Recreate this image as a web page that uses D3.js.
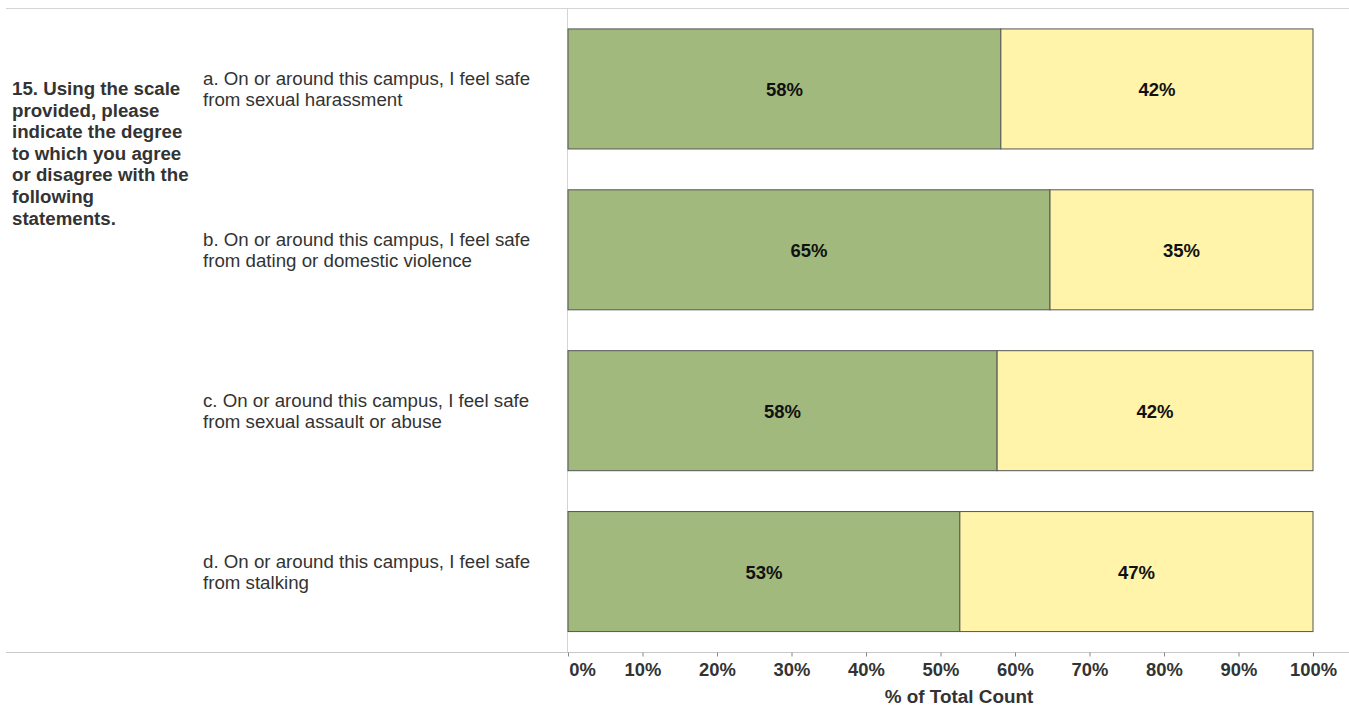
<!DOCTYPE html>
<html>
<head>
<meta charset="utf-8">
<script src="https://cdn.jsdelivr.net/npm/d3@7"></script>
<style>
  body { margin: 0; background: #fff; }
  svg text { font-family: "Liberation Sans", Arial, sans-serif; }
</style>
</head>
<body>
<div id="chart"></div>
<script>
// data
var statements = [
    ["a. On or around this campus, I feel safe", "from sexual harassment"],
    ["b. On or around this campus, I feel safe", "from dating or domestic violence"],
    ["c. On or around this campus, I feel safe", "from sexual assault or abuse"],
    ["d. On or around this campus, I feel safe", "from stalking"]
];
var agree = [58.1, 64.7, 57.6, 52.6];
var disagree = [41.9, 35.3, 42.4, 47.4];
var question = ["15. Using the scale", "provided, please", "indicate the degree",
    "to which you agree", "or disagree with the", "following", "statements."];
var ticks = [0, 10, 20, 30, 40, 50, 60, 70, 80, 90, 100];

var W = 1349, H = 706;
var plot = { left: 568, right: 1313, top: 8, bottom: 652 };

var svg = d3.select("#chart").append("svg")
    .attr("width", W)
    .attr("height", H);

var x = d3.scaleLinear().domain([0, 100]).range([plot.left, plot.right]);
var y = d3.scaleBand()
    .domain(d3.range(statements.length))
    .range([plot.top + 0.5, plot.bottom])
    .paddingInner(0.254)
    .paddingOuter(0.127);

// frame lines
svg.append("line").attr("x1", 6).attr("x2", W).attr("y1", 8.5).attr("y2", 8.5)
    .attr("stroke", "#d4d4d4");
svg.append("line").attr("x1", 567.5).attr("x2", 567.5).attr("y1", 8).attr("y2", plot.bottom)
    .attr("stroke", "#d4d4d4");
svg.append("line").attr("x1", 6).attr("x2", W).attr("y1", plot.bottom + 0.5).attr("y2", plot.bottom + 0.5)
    .attr("stroke", "#c8c8c8");

// rows
var rows = svg.selectAll(".row")
    .data(statements.map(function (s, i) {
        return { label: s, a: agree[i], d: disagree[i], i: i };
    }))
    .enter().append("g")
    .attr("class", "row");

rows.append("rect")
    .attr("x", x(0))
    .attr("y", function (d) { return y(d.i); })
    .attr("width", function (d) { return x(d.a) - x(0); })
    .attr("height", y.bandwidth())
    .attr("fill", "#a1b97d")
    .attr("stroke", "#555")
    .attr("stroke-width", 1);

rows.append("rect")
    .attr("x", function (d) { return x(d.a); })
    .attr("y", function (d) { return y(d.i); })
    .attr("width", function (d) { return x(d.a + d.d) - x(d.a); })
    .attr("height", y.bandwidth())
    .attr("fill", "#fff4aa")
    .attr("stroke", "#555")
    .attr("stroke-width", 1);

rows.append("text")
    .attr("x", function (d) { return (x(0) + x(d.a)) / 2; })
    .attr("y", function (d) { return y(d.i) + y.bandwidth() / 2 + 7; })
    .attr("text-anchor", "middle")
    .style("font-size", "18.5px")
    .style("font-weight", "bold")
    .attr("fill", "#111")
    .text(function (d) { return Math.round(d.a) + "%"; });

rows.append("text")
    .attr("x", function (d) { return (x(d.a) + x(d.a + d.d)) / 2; })
    .attr("y", function (d) { return y(d.i) + y.bandwidth() / 2 + 7; })
    .attr("text-anchor", "middle")
    .style("font-size", "18.5px")
    .style("font-weight", "bold")
    .attr("fill", "#111")
    .text(function (d) { return Math.round(d.d) + "%"; });

// row labels
rows.append("text")
    .attr("x", 203)
    .attr("y", function (d) { return y(d.i) + y.bandwidth() / 2 - 4; })
    .style("font-size", "18.7px")
    .attr("fill", "#333")
    .selectAll("tspan")
    .data(function (d) { return d.label; })
    .enter().append("tspan")
    .attr("x", 203)
    .attr("dy", function (d, i) { return i === 0 ? 0 : 21; })
    .text(function (d) { return d; });

// question text
svg.append("text")
    .attr("x", 12)
    .attr("y", 95)
    .style("font-size", "18.7px")
    .style("font-weight", "bold")
    .attr("fill", "#333")
    .selectAll("tspan")
    .data(question)
    .enter().append("tspan")
    .attr("x", 12)
    .attr("dy", function (d, i) { return i === 0 ? 0 : 21.6; })
    .text(function (d) { return d; });

// x axis
var xAxis = svg.append("g")
    .attr("transform", "translate(0," + (plot.bottom + 0.5) + ")")
    .call(d3.axisBottom(x).tickValues(ticks).tickSize(4).tickPadding(6)
        .tickFormat(function (d) { return d + "%"; }));
xAxis.select(".domain").remove();
xAxis.selectAll(".tick line").attr("stroke", "#888");
xAxis.selectAll(".tick text")
    .attr("fill", "#333")
    .style("font-size", "18.4px")
    .style("font-weight", "bold")
    .style("font-family", "Liberation Sans, Arial, sans-serif")
    .attr("dx", function (d) { return d === 0 ? 14 : 0; });

svg.append("text")
    .attr("x", 959)
    .attr("y", 703)
    .attr("text-anchor", "middle")
    .style("font-size", "18.9px")
    .style("font-weight", "bold")
    .attr("fill", "#333")
    .text("% of Total Count");
</script>
</body>
</html>
